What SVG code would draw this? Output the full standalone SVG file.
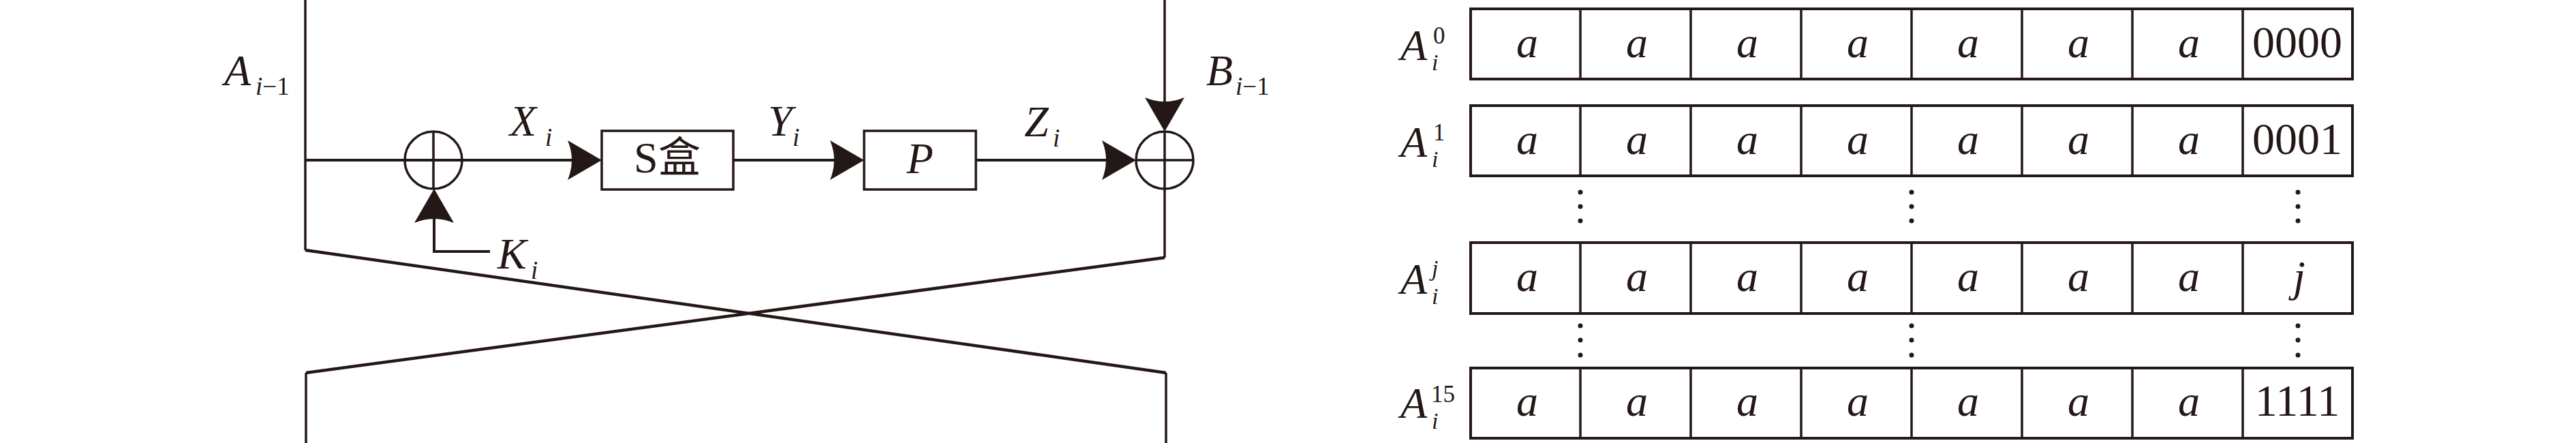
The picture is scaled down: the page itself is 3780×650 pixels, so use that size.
<svg xmlns="http://www.w3.org/2000/svg" width="3780" height="650" viewBox="0 0 3780 650">
<style>
.m{font-family:"Liberation Serif",serif;font-style:italic;font-size:64px;fill:#231815}
.u{font-family:"Liberation Serif",serif;font-style:normal;font-size:66px;fill:#231815}
.s{font-family:"Liberation Serif",serif;font-style:italic;font-size:37px;fill:#231815}
.su{font-family:"Liberation Serif",serif;font-style:normal;font-size:37px;fill:#231815}
.rs{font-family:"Liberation Serif",serif;font-style:italic;font-size:34px;fill:#231815}
.rsu{font-family:"Liberation Serif",serif;font-style:normal;font-size:35px;fill:#231815}
.sl{font-family:"Liberation Serif",serif;font-style:normal;font-size:64px;fill:#231815}
.cj{font-family:"Noto Sans CJK SC",sans-serif;font-size:62px;fill:#231815}
.ln{stroke:#231815;fill:none;stroke-width:4}
.th{stroke:#231815;fill:none;stroke-width:3.5}
.dg{stroke:#231815;fill:none;stroke-width:4.5}
.bx{stroke:#231815;fill:#fff;stroke-width:3.5}
.rw{stroke:#231815;fill:none;stroke-width:4}
.dv{stroke:#231815;fill:none;stroke-width:3.5}
.dot{fill:#231815}
</style>
<defs>
<marker id="ah" viewBox="-55 -35 60 70" refX="-30" refY="0" markerWidth="60" markerHeight="70" markerUnits="userSpaceOnUse" orient="auto" overflow="visible">
<path d="M0,0 L-50,-29 Q-38,0 -50,29 Z" fill="#231815"/>
</marker>
</defs>
<rect width="3780" height="650" fill="#fff"/>

<g id="frame">
<path class="th" d="M448,0 V367"/>
<path class="dg" d="M448,367 L1711,547"/>
<path class="th" d="M1711,547 V650"/>
<path class="th" d="M1709,277 V378"/>
<path class="dg" d="M1709,378 L449,547"/>
<path class="th" d="M449,547 V650"/>
</g>

<g id="connectors">
<path class="ln" d="M448,235 H853" marker-end="url(#ah)"/>
<path class="ln" d="M1076,235 H1238" marker-end="url(#ah)"/>
<path class="ln" d="M1432,235 H1637" marker-end="url(#ah)"/>
<path class="th" d="M1709,0 V163" marker-end="url(#ah)"/>
<path class="ln" d="M719,369 H637 V307" marker-end="url(#ah)"/>
</g>

<g id="xor1">
<circle cx="636" cy="235" r="42" class="th"/>
<path class="th" d="M594,235 H678 M636,193 V277"/>
</g>
<g id="xor2">
<circle cx="1709" cy="235" r="42" class="th"/>
<path class="th" d="M1667,235 H1751 M1709,193 V277"/>
</g>

<g id="sbox">
<rect x="883" y="192" width="193" height="86" class="bx"/>
<text x="930" y="253"><tspan class="sl">S</tspan><tspan class="cj" x="966">盒</tspan></text>
</g>
<g id="pbox">
<rect x="1268" y="192" width="164" height="86" class="bx"/>
<text x="1350" y="254" text-anchor="middle" class="m">P</text>
</g>

<g id="labels-left">
<text x="329" y="125" class="m">A</text>
<text x="375" y="139" class="s">i<tspan class="su">−1</tspan></text>
<text x="748" y="199" class="m">X</text>
<text x="800" y="214" class="s">i</text>
<text x="1127" y="199" class="m">Y</text>
<text x="1163" y="214" class="s">i</text>
<text x="1503" y="200" class="m">Z</text>
<text x="1545" y="215" class="s">i</text>
<text x="1770" y="125" class="m">B</text>
<text x="1813" y="139" class="s">i<tspan class="su">−1</tspan></text>
<text x="730" y="394" class="m">K</text>
<text x="779" y="409" class="s">i</text>
</g>

<g id="row0">
<rect x="2158" y="13" width="1294" height="103" class="rw"/>
<path class="dv" d="M2319,13V116M2481,13V116M2643,13V116M2805,13V116M2967,13V116M3129,13V116M3291,13V116"/>
<text y="84" text-anchor="middle" class="m"><tspan x="2241">a</tspan><tspan x="2402">a</tspan><tspan x="2564">a</tspan><tspan x="2726">a</tspan><tspan x="2888">a</tspan><tspan x="3050">a</tspan><tspan x="3212">a</tspan></text>
<text x="3371" y="84" text-anchor="middle" class="u">0000</text>
<text x="2055" y="88" class="m">A</text>
<text x="2103" y="64" class="rsu">0</text>
<text x="2101" y="103" class="rs">i</text>
</g>

<g id="row1">
<rect x="2158" y="155" width="1294" height="103" class="rw"/>
<path class="dv" d="M2319,155V258M2481,155V258M2643,155V258M2805,155V258M2967,155V258M3129,155V258M3291,155V258"/>
<text y="226" text-anchor="middle" class="m"><tspan x="2241">a</tspan><tspan x="2402">a</tspan><tspan x="2564">a</tspan><tspan x="2726">a</tspan><tspan x="2888">a</tspan><tspan x="3050">a</tspan><tspan x="3212">a</tspan></text>
<text x="3371" y="226" text-anchor="middle" class="u">0001</text>
<text x="2055" y="230" class="m">A</text>
<text x="2103" y="206" class="rsu">1</text>
<text x="2101" y="245" class="rs">i</text>
</g>

<g id="rowj">
<rect x="2158" y="356" width="1294" height="104" class="rw"/>
<path class="dv" d="M2319,356V460M2481,356V460M2643,356V460M2805,356V460M2967,356V460M3129,356V460M3291,356V460"/>
<text y="427" text-anchor="middle" class="m"><tspan x="2241">a</tspan><tspan x="2402">a</tspan><tspan x="2564">a</tspan><tspan x="2726">a</tspan><tspan x="2888">a</tspan><tspan x="3050">a</tspan><tspan x="3212">a</tspan></text>
<text x="3374" y="427" text-anchor="middle" class="m">j</text>
<text x="2055" y="431" class="m">A</text>
<text x="2101" y="405" class="rs">j</text>
<text x="2101" y="446" class="rs">i</text>
</g>

<g id="row15">
<rect x="2158" y="540" width="1294" height="103" class="rw"/>
<path class="dv" d="M2319,540V643M2481,540V643M2643,540V643M2805,540V643M2967,540V643M3129,540V643M3291,540V643"/>
<text y="610" text-anchor="middle" class="m"><tspan x="2241">a</tspan><tspan x="2402">a</tspan><tspan x="2564">a</tspan><tspan x="2726">a</tspan><tspan x="2888">a</tspan><tspan x="3050">a</tspan><tspan x="3212">a</tspan></text>
<text x="3371" y="610" text-anchor="middle" class="u">1111</text>
<text x="2055" y="613" class="m">A</text>
<text x="2100" y="590" class="rsu">15</text>
<text x="2101" y="629" class="rs">i</text>
</g>

<g id="ellipses">
<circle class="dot" cx="2319" cy="282" r="3.5"/><circle class="dot" cx="2319" cy="303" r="3.5"/><circle class="dot" cx="2319" cy="324" r="3.5"/>
<circle class="dot" cx="2805" cy="282" r="3.5"/><circle class="dot" cx="2805" cy="303" r="3.5"/><circle class="dot" cx="2805" cy="324" r="3.5"/>
<circle class="dot" cx="3372" cy="282" r="3.5"/><circle class="dot" cx="3372" cy="303" r="3.5"/><circle class="dot" cx="3372" cy="324" r="3.5"/>
<circle class="dot" cx="2319" cy="478" r="3.5"/><circle class="dot" cx="2319" cy="499" r="3.5"/><circle class="dot" cx="2319" cy="521" r="3.5"/>
<circle class="dot" cx="2805" cy="478" r="3.5"/><circle class="dot" cx="2805" cy="499" r="3.5"/><circle class="dot" cx="2805" cy="521" r="3.5"/>
<circle class="dot" cx="3372" cy="478" r="3.5"/><circle class="dot" cx="3372" cy="499" r="3.5"/><circle class="dot" cx="3372" cy="521" r="3.5"/>
</g>
</svg>
